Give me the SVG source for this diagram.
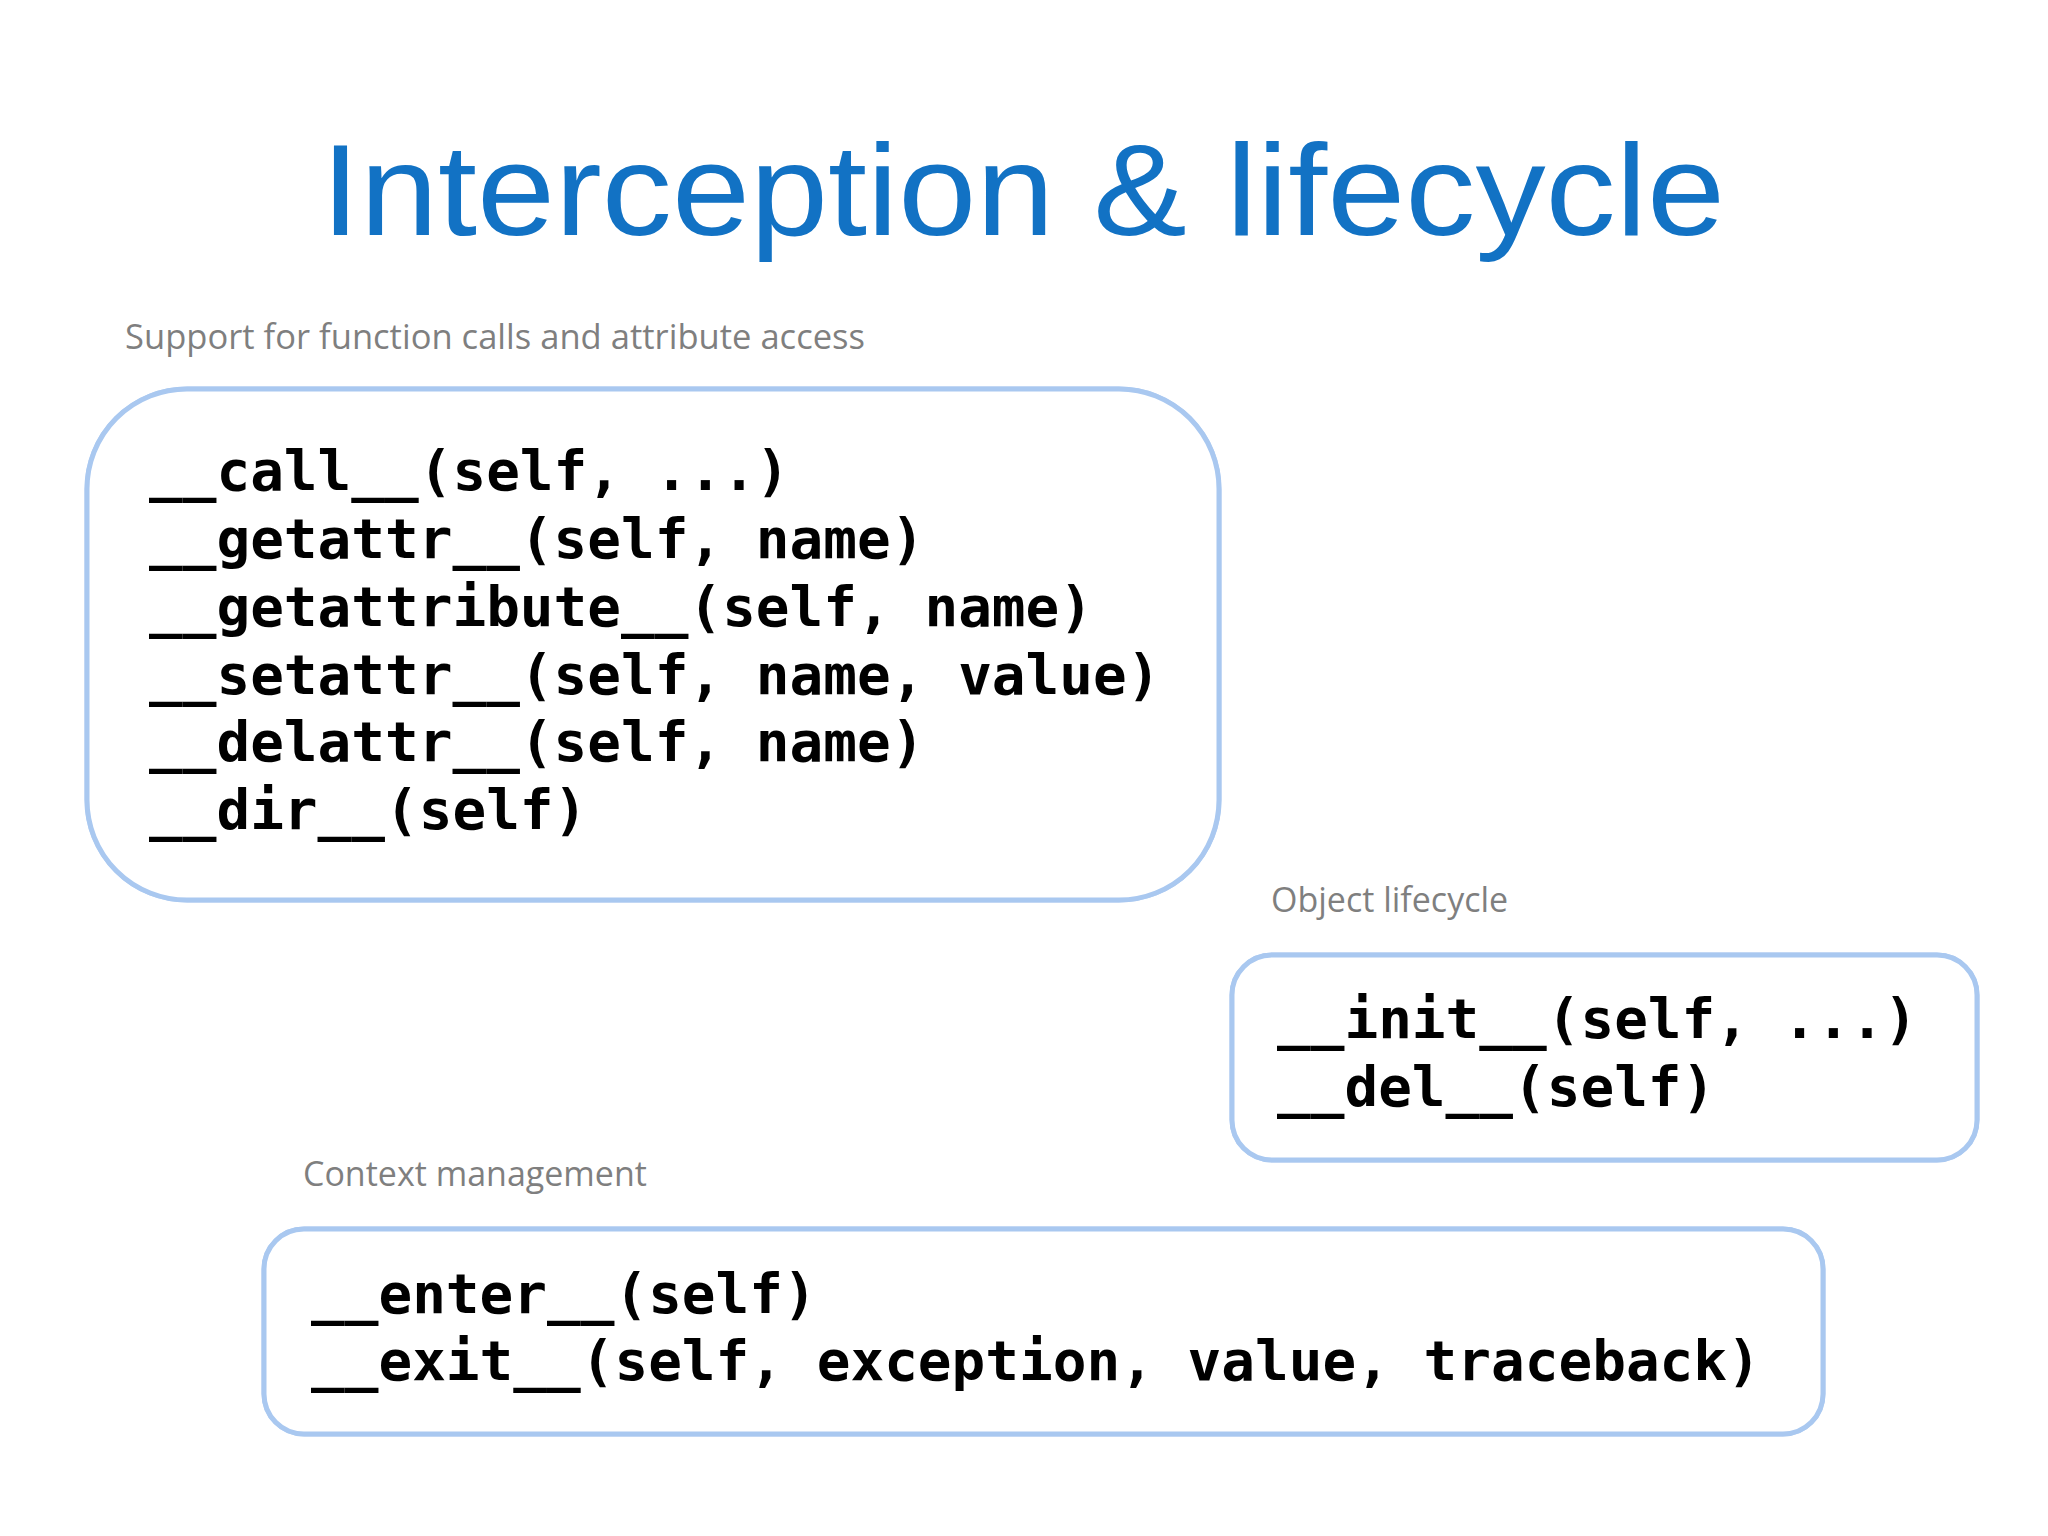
<svg xmlns="http://www.w3.org/2000/svg" width="2048" height="1536" viewBox="0 0 2048 1536">
<style>
.lbl{font-family:"Open Sans","Liberation Sans",sans-serif;font-size:34px;fill:#7f7f7f}
.code{font-family:"DejaVu Sans Mono","Liberation Mono",monospace;font-weight:bold;font-size:56px;fill:#000}
.box{fill:#fff;stroke:#a9c8f0;stroke-width:5;filter:url(#glow)}
</style>
<defs>
<filter id="glow" x="-5%" y="-5%" width="110%" height="110%"><feGaussianBlur in="SourceAlpha" stdDeviation="4"/><feFlood flood-color="#b8d2f4"/><feComposite operator="in" in2="SourceAlpha"/><feMerge><feMergeNode/><feMergeNode in="SourceGraphic"/></feMerge></filter>
</defs>
<rect width="2048" height="1536" fill="#fff"/>
<text x="1023" y="235" text-anchor="middle" font-family="Liberation Sans, sans-serif" font-size="130" fill="#1272c4" textLength="1404" lengthAdjust="spacingAndGlyphs">Interception &amp; lifecycle</text>
<g id="attr">
<text class="lbl" x="125" y="349" textLength="740" lengthAdjust="spacingAndGlyphs">Support for function calls and attribute access</text>
<rect class="box" x="87" y="389" width="1132" height="511" rx="100"/>
<text class="code" x="149" y="490">__call__(self, ...)</text>
<text class="code" x="149" y="558">__getattr__(self, name)</text>
<text class="code" x="149" y="626">__getattribute__(self, name)</text>
<text class="code" x="149" y="694">__setattr__(self, name, value)</text>
<text class="code" x="149" y="761">__delattr__(self, name)</text>
<text class="code" x="149" y="829">__dir__(self)</text>
</g>
<g id="life">
<text class="lbl" x="1271" y="912">Object lifecycle</text>
<rect class="box" x="1232" y="955" width="745" height="205" rx="40"/>
<text class="code" x="1277" y="1038">__init__(self, ...)</text>
<text class="code" x="1277" y="1106">__del__(self)</text>
</g>
<g id="ctx">
<text class="lbl" x="303" y="1186">Context management</text>
<rect class="box" x="264" y="1229" width="1559" height="205" rx="40"/>
<text class="code" x="311" y="1313">__enter__(self)</text>
<text class="code" x="311" y="1380">__exit__(self, exception, value, traceback)</text>
</g>
<g id="connectors"/>
</svg>
